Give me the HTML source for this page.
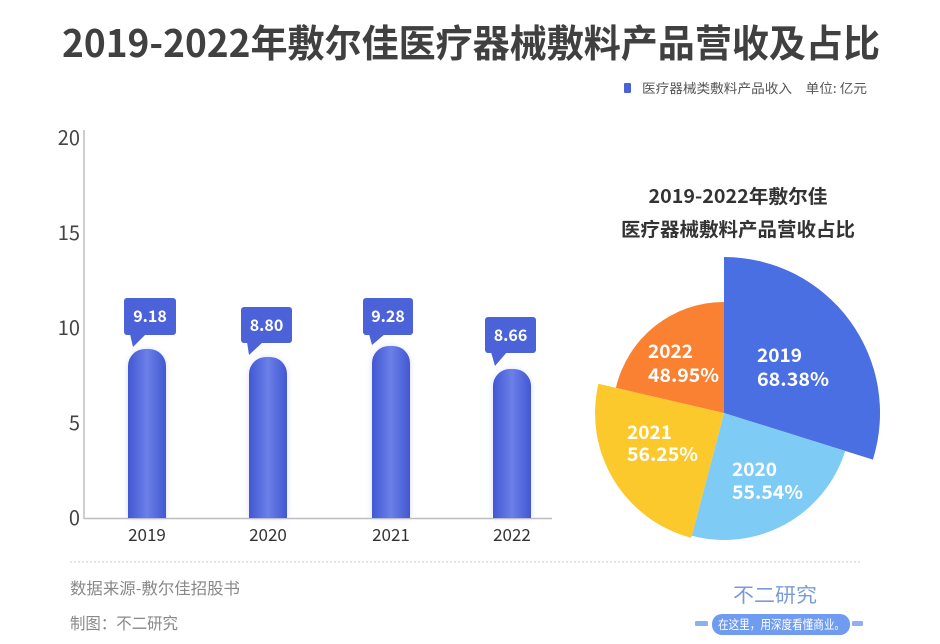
<!DOCTYPE html>
<html>
<head>
<meta charset="utf-8">
<style>
html,body{margin:0;padding:0;background:#fff;}
svg{display:block;}
text{font-family:"Liberation Sans","Noto Sans CJK SC",sans-serif;}
.cjk{font-family:"Noto Sans CJK SC","Liberation Sans",sans-serif;}
</style>
</head>
<body>
<svg width="940" height="644" viewBox="0 0 940 644" xmlns="http://www.w3.org/2000/svg">
<defs>
  <linearGradient id="bar" x1="0" y1="0" x2="1" y2="0">
    <stop offset="0" stop-color="#4257d2"/>
    <stop offset="0.5" stop-color="#6b80e8"/>
    <stop offset="1" stop-color="#4257d2"/>
  </linearGradient>
  <filter id="glow" x="-30%" y="-10%" width="160%" height="120%">
    <feGaussianBlur stdDeviation="3"/>
  </filter>
</defs>
<rect width="940" height="644" fill="#fff"/>

<!-- Title -->
<text class="cjk" x="62" y="57" font-size="38" font-weight="bold" fill="#404040" textLength="818" lengthAdjust="spacingAndGlyphs">2019-2022年敷尔佳医疗器械敷料产品营收及占比</text>

<!-- Legend -->
<rect x="624" y="83" width="7" height="10" rx="1" fill="#4a63d8"/>
<text class="cjk" x="642" y="93" font-size="13" fill="#555" textLength="225" lengthAdjust="spacingAndGlyphs">医疗器械类敷料产品收入　单位: 亿元</text>

<!-- Axes -->
<line x1="84" y1="130" x2="84" y2="519" stroke="#bdbdbd" stroke-width="1.5"/>
<line x1="84" y1="518.5" x2="552" y2="518.5" stroke="#bdbdbd" stroke-width="1.5"/>

<!-- Y labels -->
<g class="cjk" font-size="20" fill="#444" text-anchor="end">
  <text class="cjk" x="80" y="145">20</text>
  <text class="cjk" x="80" y="240">15</text>
  <text class="cjk" x="80" y="335">10</text>
  <text class="cjk" x="80" y="430">5</text>
  <text class="cjk" x="80" y="525">0</text>
</g>

<!-- X labels -->
<g font-size="17" fill="#333" text-anchor="middle">
  <text class="cjk" x="147" y="541">2019</text>
  <text class="cjk" x="268" y="541">2020</text>
  <text class="cjk" x="391" y="541">2021</text>
  <text class="cjk" x="512" y="541">2022</text>
</g>

<!-- Bars glow -->
<g fill="#b8c4f4" opacity="0.6" filter="url(#glow)">
  <path d="M128,518 L128,368 A19,19 0 0 1 166,368 L166,518 Z"/>
  <path d="M249,518 L249,376 A19,19 0 0 1 287,376 L287,518 Z"/>
  <path d="M372,518 L372,365 A19,19 0 0 1 410,365 L410,518 Z"/>
  <path d="M493,518 L493,388 A19,19 0 0 1 531,388 L531,518 Z"/>
</g>
<!-- Bars -->
<g fill="url(#bar)">
  <path d="M128,518 L128,366 A17,17 0 0 1 145,349 L149,349 A17,17 0 0 1 166,366 L166,518 Z"/>
  <path d="M249,518 L249,374 A17,17 0 0 1 266,357 L270,357 A17,17 0 0 1 287,374 L287,518 Z"/>
  <path d="M372,518 L372,363 A17,17 0 0 1 389,346 L393,346 A17,17 0 0 1 410,363 L410,518 Z"/>
  <path d="M493,518 L493,386 A17,17 0 0 1 510,369 L514,369 A17,17 0 0 1 531,386 L531,518 Z"/>
</g>

<!-- Bubbles -->
<g fill="#4b62d8">
  <rect x="124" y="298" width="52" height="37" rx="3"/>
  <path d="M130,334 L146,334 L133,347 Z"/>
  <rect x="241" y="307" width="51" height="36" rx="3"/>
  <path d="M247,342 L263,342 L249,355 Z"/>
  <rect x="363" y="298" width="50" height="37" rx="3"/>
  <path d="M369,334 L385,334 L372,345 Z"/>
  <rect x="485" y="317" width="51" height="36" rx="3"/>
  <path d="M491,352 L507,352 L495,366 Z"/>
</g>
<g font-size="16" font-weight="bold" fill="#fff" text-anchor="middle">
  <text class="cjk" x="150" y="322">9.18</text>
  <text class="cjk" x="266.5" y="331">8.80</text>
  <text class="cjk" x="388" y="322">9.28</text>
  <text class="cjk" x="510.5" y="341">8.66</text>
</g>

<!-- Pie title -->
<g font-size="19" font-weight="bold" fill="#333" text-anchor="middle">
  <text class="cjk" x="738" y="203" textLength="179" lengthAdjust="spacingAndGlyphs">2019-2022年敷尔佳</text>
  <text class="cjk" x="738" y="236" textLength="234" lengthAdjust="spacingAndGlyphs">医疗器械敷料产品营收占比</text>
</g>

<!-- Pie -->
<path d="M724,413 L724,257 A156,156 0 0 1 872.9,459.6 Z" fill="#4a6fe3"/>
<path d="M724,413 L845.2,451 A127,127 0 0 1 691.8,535.8 Z" fill="#7ecbf6"/>
<path d="M724,413 L691.3,537.8 A129,129 0 0 1 598.4,383.8 Z" fill="#fcc92c"/>
<path d="M724,413 L615.9,387.8 A111,111 0 0 1 724,302 Z" fill="#f98131"/>

<g font-size="19" font-weight="bold" fill="#fff">
  <text class="cjk" x="757" y="362" textLength="45" lengthAdjust="spacingAndGlyphs">2019</text>
  <text class="cjk" x="757" y="386" textLength="72" lengthAdjust="spacingAndGlyphs">68.38%</text>
  <text class="cjk" x="648" y="358" textLength="45" lengthAdjust="spacingAndGlyphs">2022</text>
  <text class="cjk" x="648" y="382" textLength="71" lengthAdjust="spacingAndGlyphs">48.95%</text>
  <text class="cjk" x="627" y="439" textLength="45" lengthAdjust="spacingAndGlyphs">2021</text>
  <text class="cjk" x="627" y="461" textLength="71" lengthAdjust="spacingAndGlyphs">56.25%</text>
  <text class="cjk" x="732" y="476" textLength="45" lengthAdjust="spacingAndGlyphs">2020</text>
  <text class="cjk" x="732" y="499" textLength="71" lengthAdjust="spacingAndGlyphs">55.54%</text>
</g>

<!-- Dashed separator -->
<line x1="70" y1="562" x2="860" y2="562" stroke="#c8c8c8" stroke-width="1" stroke-dasharray="2,2"/>

<!-- Footer -->
<text class="cjk" x="70" y="594" font-size="16" fill="#888" textLength="170" lengthAdjust="spacingAndGlyphs">数据来源-敷尔佳招股书</text>
<text class="cjk" x="70" y="629" font-size="16" fill="#888" textLength="108" lengthAdjust="spacingAndGlyphs">制图：不二研究</text>

<!-- Logo -->
<text class="cjk" x="733" y="602" font-size="20" fill="#7b9bd8" textLength="84" lengthAdjust="spacingAndGlyphs">不二研究</text>
<rect x="695" y="621" width="13" height="5" rx="1" fill="#8fb0f0"/>
<rect x="852" y="621" width="11" height="5" rx="1" fill="#8fb0f0"/>
<rect x="712" y="614" width="138" height="21" rx="10" fill="#6f9bf0"/>
<text class="cjk" x="718" y="629" font-size="12.5" fill="#fff" textLength="127" lengthAdjust="spacingAndGlyphs">在这里，用深度看懂商业。</text>
</svg>
</body>
</html>
